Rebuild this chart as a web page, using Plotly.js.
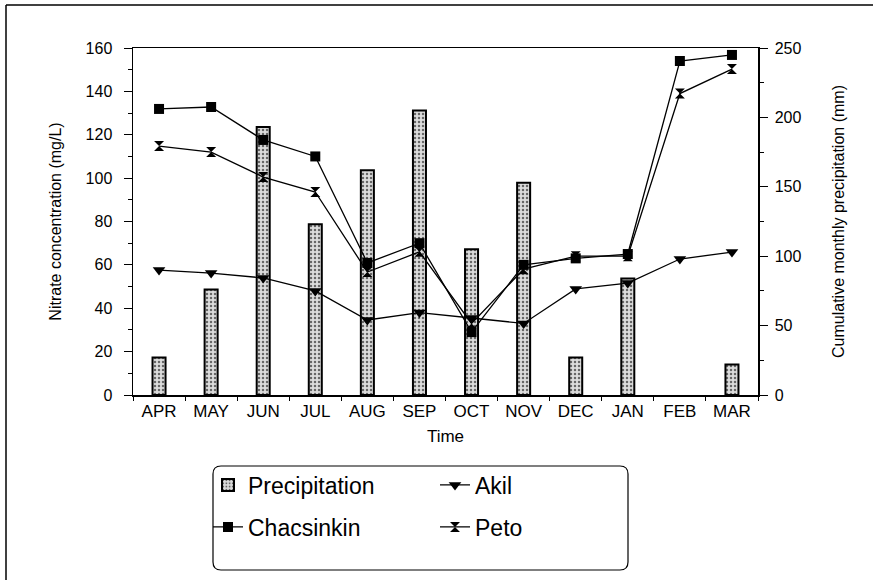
<!DOCTYPE html>
<html>
<head>
<meta charset="utf-8">
<script src="https://cdn.plot.ly/plotly-3.0.1.min.js"></script>
<style>html,body{margin:0;padding:0;background:#fff;}#chart{width:877px;height:580px;}</style>
</head>
<body>
<div id="chart"></div>
<script>
const months = ["APR","MAY","JUN","JUL","AUG","SEP","OCT","NOV","DEC","JAN","FEB","MAR"];
const precipitation = [27, 76, 193, 123, 162, 205, 105, 153, 27, 84, 0, 22];
const akil = [57.6, 56.2, 54, 48, 34.6, 38, 35.5, 33, 48.9, 51.6, 62.7, 65.9];
const chacsinkin = [131.9, 132.8, 117.6, 110, 60.9, 70, 29, 60, 63, 65, 154, 156.8];
const peto = [114.8, 112, 100.5, 93.6, 56.7, 66, 33, 58, 64, 64, 139, 150.3];

const FONT = "Liberation Sans, Arial, sans-serif";
const lineStyle = {color: "#000", width: 1.3};

const traces = [
  {type: "bar", name: "Precipitation", x: months, y: precipitation, yaxis: "y", width: 0.25,
   marker: {color: "#d4d4d4", line: {color: "#000", width: precipitation.map(v => v > 0 ? 2 : 0)},
            pattern: {shape: ".", fgcolor: "#666", bgcolor: "#dcdcdc", size: 4, solidity: 0.3}},
   legend: "legend"},
  {type: "scatter", mode: "lines+markers", name: "Akil", x: months, y: akil, yaxis: "y2",
   line: lineStyle, marker: {symbol: "triangle-down", size: 11, color: "#000"}, legend: "legend"},
  {type: "scatter", mode: "lines+markers", name: "Chacsinkin", x: months, y: chacsinkin, yaxis: "y2",
   line: lineStyle, marker: {symbol: "square", size: 10, color: "#000"}, legend: "legend2"},
  {type: "scatter", mode: "lines+markers", name: "Peto", x: months, y: peto, yaxis: "y2",
   line: lineStyle, marker: {symbol: "hourglass", size: 10, color: "#000"}, legend: "legend2"}
];

function px2x(p){ return (p-133)/625; }
function py2y(p){ return (395-p)/347; }
const x0 = px2x(213), x1 = px2x(628), yT = py2y(466), yB = py2y(570);
const rx = 8/625, ry = 8/347;
const rr = `M${x0+rx},${yT} L${x1-rx},${yT} Q${x1},${yT} ${x1},${yT-ry} L${x1},${yB+ry} Q${x1},${yB} ${x1-rx},${yB} L${x0+rx},${yB} Q${x0},${yB} ${x0},${yB+ry} L${x0},${yT-ry} Q${x0},${yT} ${x0+rx},${yT} Z`;

const legendCommon = {orientation: "h", xanchor: "left", yanchor: "middle", bgcolor: "rgba(0,0,0,0)",
  borderwidth: 0, font: {family: FONT, size: 23, color: "#000"}, entrywidth: 182, entrywidthmode: "pixels",
  itemwidth: 30, tracegroupgap: 0};

const layout = {
  width: 877, height: 580,
  margin: {l: 133, r: 119, t: 48, b: 185},
  paper_bgcolor: "#fff", plot_bgcolor: "#fff",
  font: {family: FONT, color: "#000", size: 15},
  barmode: "overlay",
  showlegend: true,
  legend: Object.assign({x: px2x(208), y: py2y(485)}, legendCommon),
  legend2: Object.assign({x: px2x(208), y: py2y(527)}, legendCommon),
  xaxis: {type: "category", range: [-0.5, 11.5], showline: true, linecolor: "#000", linewidth: 1.5,
          mirror: true, ticks: "outside", tickson: "boundaries", ticklen: 4, tickcolor: "#000",
          showgrid: false, tickfont: {size: 17, family: FONT},
          title: {text: "Time", font: {size: 17, family: FONT}, standoff: 10}},
  yaxis: {side: "right", range: [0, 250], dtick: 50, showline: true, linecolor: "#000", linewidth: 1.5,
          ticks: "outside", ticklen: 8, tickcolor: "#000", showgrid: false, zeroline: false,
          tickfont: {size: 16, family: FONT}, ticklabelstandoff: 4,
          minor: {ticks: "outside", ticklen: 4, dtick: 25, tickcolor: "#000"},
          title: {text: "Cumulative monthly precipitation (mm)", font: {size: 16, family: FONT}, standoff: 32}},
  yaxis2: {overlaying: "y", side: "left", range: [0, 160], dtick: 20, showline: true, linecolor: "#000", linewidth: 1.5,
          ticks: "outside", ticklen: 8, tickcolor: "#000", showgrid: false, zeroline: false,
          tickfont: {size: 16, family: FONT}, ticklabelstandoff: 8,
          minor: {ticks: "outside", ticklen: 4, dtick: 10, tickcolor: "#000"},
          title: {text: "Nitrate concentration (mg/L)", font: {size: 16, family: FONT}, standoff: 20}},
  shapes: [
    {type: "path", xref: "paper", yref: "paper", path: rr, line: {color: "#000", width: 1.2}},
    {type: "line", xref: "paper", yref: "paper", x0: px2x(6), x1: px2x(873), y0: py2y(5), y1: py2y(5), line: {color: "#000", width: 1.5}},
    {type: "line", xref: "paper", yref: "paper", x0: px2x(6), x1: px2x(6), y0: py2y(5), y1: py2y(580), line: {color: "#000", width: 1.5}}
  ]
};

Plotly.newPlot("chart", traces, layout, {displayModeBar: false, staticPlot: true});
</script>
</body>
</html>
